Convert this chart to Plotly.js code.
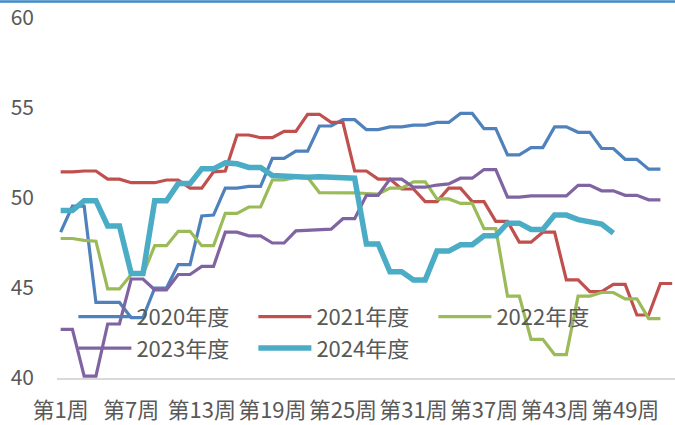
<!DOCTYPE html>
<html>
<head>
<meta charset="utf-8">
<script src="https://cdn.plot.ly/plotly-3.0.1.min.js"></script>
<style>
html,body{margin:0;padding:0;background:#fff;}
#chart{width:675px;height:425px;}
</style>
</head>
<body>
<div id="chart"></div>
<script>
// Categories (weeks)
var weeks = ["第1周","第2周","第3周","第4周","第5周","第6周","第7周","第8周","第9周","第10周",
  "第11周","第12周","第13周","第14周","第15周","第16周","第17周","第18周","第19周","第20周",
  "第21周","第22周","第23周","第24周","第25周","第26周","第27周","第28周","第29周","第30周",
  "第31周","第32周","第33周","第34周","第35周","第36周","第37周","第38周","第39周","第40周",
  "第41周","第42周","第43周","第44周","第45周","第46周","第47周","第48周","第49周","第50周",
  "第51周","第52周","第53周"];
var tickLabels = ["第1周","第7周","第13周","第19周","第25周","第31周","第37周","第43周","第49周"];
var seriesNames = ["2020年度","2021年度","2022年度","2023年度","2024年度"];

var y2020 = [48.1,49.55,49.55,44.2,44.2,44.2,43.35,43.35,45.0,45.0,46.3,46.3,49.0,49.05,50.55,50.55,50.65,50.65,52.2,52.2,
  52.6,52.6,54.0,54.0,54.35,54.35,53.8,53.8,53.95,53.95,54.05,54.05,54.2,54.2,54.7,54.7,53.85,53.85,52.4,52.4,
  52.8,52.8,53.95,53.95,53.65,53.65,52.75,52.75,52.15,52.15,51.6,51.6];
var y2021 = [51.45,51.45,51.5,51.5,51.05,51.05,50.85,50.85,50.85,51.0,51.0,50.55,50.55,51.45,51.5,53.5,53.5,53.35,53.35,53.7,
  53.7,54.65,54.65,54.2,54.2,51.5,51.5,51.05,51.05,50.5,50.5,49.8,49.8,50.55,50.55,49.8,49.8,48.7,48.7,47.55,
  47.55,48.1,48.1,45.45,45.45,44.8,44.8,45.2,45.2,43.5,43.5,45.25,45.25];
var y2022 = [47.75,47.75,47.65,47.6,44.95,44.95,45.75,45.75,47.35,47.35,48.15,48.15,47.35,47.35,49.15,49.15,49.5,49.5,51.0,51.0,
  51.15,51.15,50.3,50.3,50.28,50.28,50.25,50.22,50.55,50.55,50.9,50.9,49.95,49.95,49.7,49.7,48.3,48.3,44.55,44.55,
  42.15,42.15,41.3,41.3,44.55,44.55,44.75,44.75,44.4,44.4,43.3,43.3];
var y2023 = [42.7,42.7,40.1,40.1,43.0,43.0,45.5,45.5,44.9,44.9,45.75,45.75,46.2,46.2,48.1,48.1,47.9,47.9,47.5,47.5,
  48.17,48.2,48.22,48.27,48.85,48.85,50.15,50.15,51.05,51.05,50.6,50.6,50.72,50.78,51.1,51.1,51.58,51.58,50.05,50.05,
  50.12,50.12,50.12,50.12,50.7,50.7,50.4,50.4,50.15,50.15,49.9,49.9];
var y2024 = [49.3,49.3,49.85,49.85,48.45,48.45,45.8,45.8,49.85,49.85,50.8,50.8,51.62,51.62,51.95,51.9,51.7,51.7,51.25,51.2,
  51.15,51.15,51.18,51.15,51.1,51.1,47.45,47.45,45.9,45.9,45.45,45.45,47.05,47.05,47.4,47.4,47.9,47.9,48.6,48.6,
  48.25,48.25,49.05,49.05,48.8,48.7,48.55,48.05];

var allSeries = [y2020, y2021, y2022, y2023, y2024];
var colors = ["#4F81BD","#C0504D","#9BBB59","#8064A2","#4BACC6"];
var widths = [3.2,3.2,3.2,3.2,5.5];
var legendIds = ["legend","legend","legend","legend2","legend2"];

var FONT = '"Noto Sans CJK SC", "Noto Sans", sans-serif';
var GREY = '#595959';

var traces = allSeries.map(function(vals, i){
  return {
    type:'scatter', mode:'lines',
    x: weeks.slice(0, vals.length), y: vals,
    name: seriesNames[i],
    legend: legendIds[i],
    line:{color:colors[i], width:widths[i], shape:'linear'},
    hoverinfo:'skip'
  };
});

var legendBase = {
  orientation:'h', xanchor:'left', yanchor:'middle',
  bgcolor:'rgba(0,0,0,0)', borderwidth:0,
  font:{family:FONT, size:22, color:GREY},
  entrywidth:112, entrywidthmode:'pixels', itemwidth:53,
  traceorder:'normal'
};

var layout = {
  width:675, height:425,
  margin:{l:57, r:0, t:18, b:47, pad:0},
  paper_bgcolor:'#ffffff', plot_bgcolor:'rgba(0,0,0,0)',
  font:{family:FONT, size:22, color:GREY},
  showlegend:true,
  legend: Object.assign({}, legendBase, {x:0.0265, y:0.170}),
  legend2: Object.assign({}, legendBase, {x:0.0265, y:0.0825}),
  xaxis:{
    type:'category', categoryorder:'array', categoryarray:weeks,
    range:[-0.31, 52.24],
    tickmode:'array', tickvals:tickLabels, ticktext:tickLabels,
    showgrid:false, zeroline:false, showline:true, linecolor:'#d9d9d9', linewidth:2,
    ticks:'', ticklabelstandoff:12,
    tickfont:{family:FONT, size:22, color:GREY}, tickangle:0
  },
  yaxis:{
    range:[40,60], tickmode:'linear', tick0:40, dtick:5,
    showgrid:false, zeroline:false, showline:false, ticks:'',
    ticklabelstandoff:22,
    tickfont:{family:FONT, size:21, color:GREY}
  },
  shapes:[{type:'line', xref:'paper', yref:'paper', x0:-0.1, x1:1.0, y0:1.0455, y1:1.0455,
           line:{color:'#3C8AC9', width:2.5}, layer:'above'}]
};

Plotly.newPlot('chart', traces, layout, {staticPlot:true, displayModeBar:false});
</script>
</body>
</html>
